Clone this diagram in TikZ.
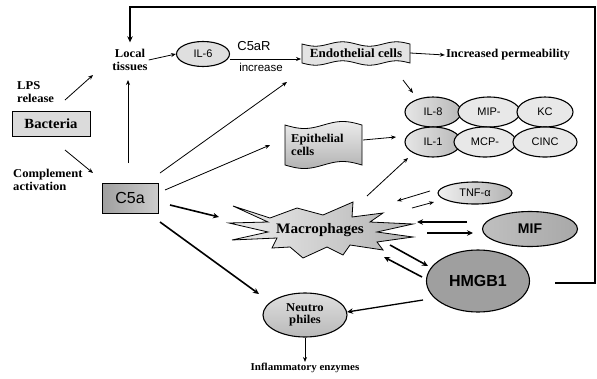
\documentclass[tikz,border=0pt]{standalone}
\usepackage{fontspec}
\setmainfont{Liberation Serif}
\newfontfamily\lserif[FakeStretch=1.05]{Liberation Serif}
\newfontfamily\lsans{Liberation Sans}
\usetikzlibrary{shapes.geometric,arrows.meta,calc}
\begin{document}
\begin{tikzpicture}[x=1pt,y=-1pt,
  lab/.style={font=\lserif\bfseries\fontsize{12}{12.5}\selectfont, inner sep=1pt, align=center},
  sanslab/.style={font=\lsans\fontsize{11}{12}\selectfont, inner sep=1pt},
  tarrow/.style={-{Stealth[length=5pt,width=4pt]}, line width=0.8pt},
  karrow/.style={-{Stealth[length=6pt,width=5.5pt]}, line width=1.6pt},
  cell/.style={ellipse, draw=black, line width=1.1pt, inner sep=0pt, font=\lsans\fontsize{11}{12}\selectfont},
]
\useasboundingbox (0,0) rectangle (597,378);

% ---- shapes drawn directly ----
% Endothelial wavy box
\draw[line width=0.8pt, fill=gray!22]
  plot[domain=302:410,samples=50] (\x,{44+2.2*sin(6.67*(\x-302))})
  -- plot[domain=410:302,samples=50] (\x,{63+2.2*sin(6.67*(\x-302))}) -- cycle;
% Epithelial flag
\draw[line width=0.8pt, top color=gray!15, bottom color=gray!60]
  plot[domain=285:362,samples=50] (\x,{125+3.5*sin(4.68*(\x-285))})
  -- plot[domain=362:285,samples=50] (\x,{165+3.5*sin(4.68*(\x-285))}) -- cycle;
% Macrophage star
\draw[line width=0.8pt, left color=gray!15, right color=gray!60]
  (233,206) -- (270,218) -- (297,208) -- (323,215) -- (353,202) -- (352,217)
  -- (383,213) -- (370,222) -- (413,224) -- (377,232) -- (413,237) -- (377,242)
  -- (383,250) -- (350,245) -- (343,255) -- (327,247) -- (303,258) -- (290,247)
  -- (272,248) -- (277,238) -- (232,240) -- (268,232) -- (229,223) -- (268,222) -- cycle;

% ---- nodes ----
\node[lab] (loc) at (130,60) {Local\\tissues};
\node[cell, fill=gray!25, minimum width=53pt, minimum height=25pt] (il6) at (203,54) {IL-6};
\node[sanslab, font=\lsans\fontsize{13}{14}\selectfont] (c5ar) at (254,46) {C5aR};
\node[sanslab, font=\lsans\fontsize{11.5}{12}\selectfont] (incr) at (261,67) {increase};
\node[lab, font=\lserif\bfseries\fontsize{12.5}{13}\selectfont, minimum width=108pt, minimum height=20pt, inner sep=0pt] (endo) at (356,53) {Endothelial cells};
\node[lab] (perm) at (508,55) {Increased permeability};

\node[cell, left color=gray!20, right color=gray!55, minimum width=56pt, minimum height=30pt] (il8) at (433,112) {IL-8};
\node[cell, fill=gray!18, minimum width=62pt, minimum height=30pt] (mip) at (489,112) {MIP-};
\node[cell, fill=gray!18, minimum width=56pt, minimum height=30pt] (kc) at (545,112) {KC};
\node[cell, left color=gray!20, right color=gray!55, minimum width=56pt, minimum height=30pt] (il1) at (433,142) {IL-1};
\node[cell, fill=gray!18, minimum width=62pt, minimum height=30pt] (mcp) at (485,142) {MCP-};
\node[cell, fill=gray!18, minimum width=64pt, minimum height=30pt] (cinc) at (545,142) {CINC};

\node[lab, anchor=west, align=left] (epi) at (290,145) {Epithelial\\cells};

\node[lab, anchor=west, align=left] (lps) at (16,92) {LPS\\release};
\node[draw=black, line width=1pt, fill=gray!28, minimum width=78pt, minimum height=25pt, inner sep=0pt,
      font=\lserif\bfseries\fontsize{14}{15}\selectfont] (bact) at (51,124) {Bacteria};
\node[lab, anchor=west, align=left] (comp) at (12,180) {Complement\\activation};

\node[draw=black, line width=1pt, left color=gray!75, right color=gray!40, minimum width=56pt, minimum height=30pt,
      inner sep=0pt, font=\lsans\fontsize{16}{17}\selectfont] (c5a) at (130,198) {C5a};

\node[lab, font=\lserif\bfseries\fontsize{14.5}{15}\selectfont] (mac) at (320,230) {Macrophages};

\node[cell, left color=gray!12, right color=gray!60, minimum width=74pt, minimum height=22pt] (tnf) at (475,193) {TNF-α};
\node[cell, left color=gray!50, right color=gray!68, minimum width=95pt, minimum height=35pt,
      font=\lsans\bfseries\fontsize{14}{15}\selectfont] (mif) at (530,229) {MIF};
\node[cell, fill=gray!75, minimum width=103pt, minimum height=62pt,
      font=\lsans\bfseries\fontsize{16}{17}\selectfont] (hmgb) at (478,281) {HMGB1};
\node[cell, top color=gray!25, bottom color=gray!55, minimum width=84pt, minimum height=44pt,
      font=\lserif\bfseries\fontsize{12}{12.5}\selectfont, align=center] (neu) at (305,315) {Neutro\\philes};
\node[lab, font=\lserif\bfseries\fontsize{10.5}{11}\selectfont] (enz) at (305,368) {Inflammatory enzymes};

% ---- connector ends ----
\path (403,80) coordinate (endoS) (413,93) coordinate (cytoA)
      (363,140) coordinate (epiE) (396,137) coordinate (cytoB)
      (367,196) coordinate (macNE) (408,158) coordinate (cytoC)
      (65,100) coordinate (lpsS) (93,75) coordinate (lpsE)
      (65,150) coordinate (bactS) (93,173) coordinate (compE)
      (128,163) coordinate (c5aN) (128,80) coordinate (locS)
      (160,173) coordinate (c5aNE) (287,82) coordinate (endoE)
      (165,190) coordinate (c5aE1) (270,145) coordinate (epiW)
      (170,205) coordinate (c5aE2) (219,217) coordinate (macW)
      (160,222) coordinate (c5aSE) (259,294) coordinate (neuNW)
      (430,191) coordinate (tnfW1) (397,201) coordinate (macT1)
      (412,208) coordinate (macT2) (434,202) coordinate (tnfW2)
      (467,222) coordinate (mifW1) (417,222) coordinate (macM1)
      (427,233) coordinate (macM2) (473,233) coordinate (mifW2)
      (390,245) coordinate (macH1) (428,266) coordinate (hmgbW1)
      (422,277) coordinate (hmgbW2) (384,257) coordinate (macH2)
      (423,300) coordinate (hmgbSW) (347,312) coordinate (neuE)
      (230,59) coordinate (il6E) (301,59) coordinate (endoW)
      (555,283) coordinate (fb) (595,7) coordinate (fbc);

% ---- connectors ----
\draw[tarrow] (loc.east) -- (il6.west);
\draw[tarrow] (il6E) -- (endoW);
\draw[tarrow] (endo.east) -- (perm.west);
\draw[tarrow] (endoS) -- (cytoA);
\draw[tarrow] (epiE) -- (cytoB);
\draw[tarrow] (macNE) -- (cytoC);
\draw[tarrow] (lpsS) -- (lpsE);
\draw[tarrow] (bactS) -- (compE);
\draw[tarrow] (c5aN) -- (locS);
\draw[tarrow] (c5aNE) -- (endoE);
\draw[tarrow] (c5aE1) -- (epiW);
\draw[karrow] (c5aE2) -- (macW);
\draw[karrow] (c5aSE) -- (neuNW);
\draw[tarrow] (tnfW1) -- (macT1);
\draw[tarrow] (macT2) -- (tnfW2);
\draw[karrow] (mifW1) -- (macM1);
\draw[karrow] (macM2) -- (mifW2);
\draw[karrow] (macH1) -- (hmgbW1);
\draw[karrow] (hmgbW2) -- (macH2);
\draw[karrow, line width=1.3pt] (hmgbSW) -- (neuE);
\draw[tarrow] (neu.south) -- (enz.north);

\draw[karrow, line width=1.8pt, shorten >=6pt] (fb) -| (fbc) -| (loc.north);
\end{tikzpicture}
\end{document}
